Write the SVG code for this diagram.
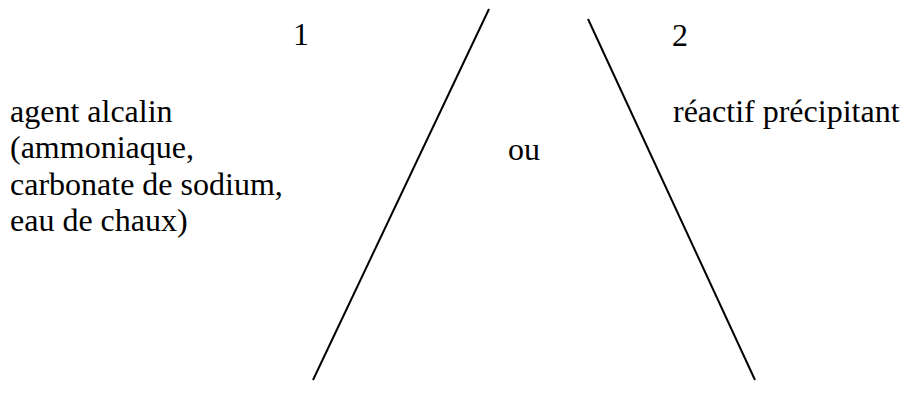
<svg xmlns="http://www.w3.org/2000/svg" width="904" height="394" viewBox="0 0 904 394">
<style>
.t{font-family:'Liberation Serif','Times New Roman',Times,serif;font-size:32px;fill:#000}
line{stroke:#000;stroke-width:2}
</style>
<rect width="904" height="394" fill="#fff"/>
<g id="left-label" class="t">
<text x="293" y="45">1</text>
<text x="10" y="122">agent alcalin</text>
<text x="10" y="158">(ammoniaque,</text>
<text x="10" y="195">carbonate de sodium,</text>
<text x="10" y="231">eau de chaux)</text>
</g>
<g id="middle-label" class="t"><text x="508" y="160">ou</text></g>
<g id="right-label" class="t">
<text x="672" y="46">2</text>
<text x="673" y="122">réactif précipitant</text>
</g>
<g id="connectors">
<line x1="489" y1="9" x2="313" y2="380"/>
<line x1="588" y1="19" x2="755" y2="380"/>
</g>
</svg>
